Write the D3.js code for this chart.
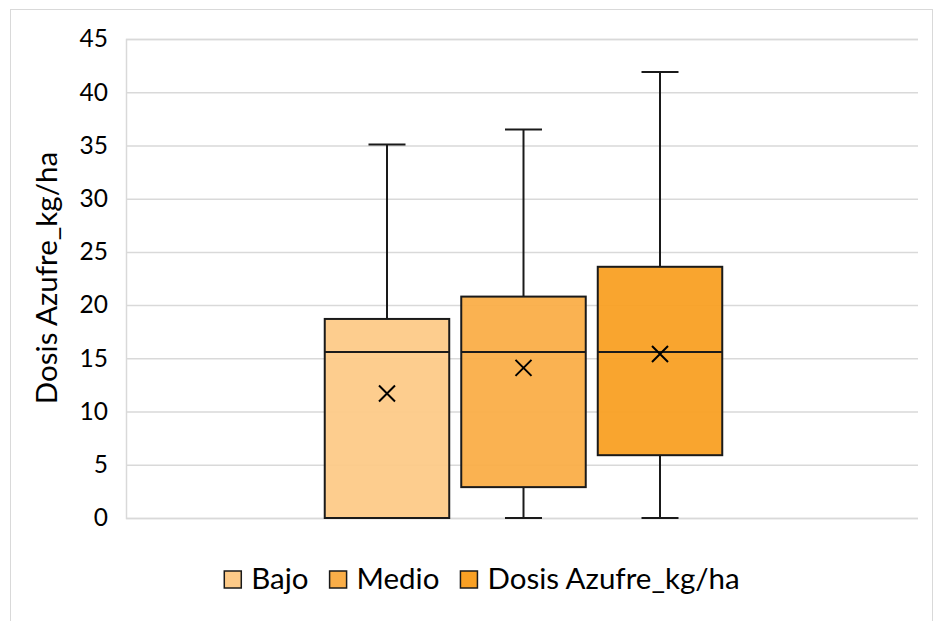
<!DOCTYPE html>
<html>
<head>
<meta charset="utf-8">
<script src="https://cdn.jsdelivr.net/npm/d3@7"></script>
<style>
  body { margin: 0; background: #fff; }
  svg { display: block; font-family: Lato, "Open Sans", sans-serif; }
</style>
</head>
<body>
<svg id="chart" width="934" height="621"></svg>
<script>
// Box-plot summary per series (kg/ha)
const categories = ["Dosis"];
const seriesNames = ["Bajo", "Medio", "Dosis Azufre_kg/ha"];
const mins = [0, 0, 0];
const q1s = [0, 2.9, 5.9];
const medians = [15.6, 15.6, 15.6];
const q3s = [18.7, 20.8, 23.6];
const maxs = [35.1, 36.5, 41.9];
const means = [11.7, 14.1, 15.4];
const seriesColors = ["#FDCA88", "#FAAE48", "#F9A024"];
const yTicks = [0, 5, 10, 15, 20, 25, 30, 35, 40, 45];

const svg = d3.select("#chart");
const plot = { left: 126, right: 918, top: 39, bottom: 518 };

// outer frame
svg.append("rect")
  .attr("x", 10.5).attr("y", 9.5)
  .attr("width", 922).attr("height", 620)
  .attr("fill", "#fff").attr("stroke", "#d9d9d9").attr("stroke-width", 1);

const y = d3.scaleLinear().domain([0, 45]).range([plot.bottom, plot.top]);

const x0 = d3.scaleBand().domain(categories)
  .range([plot.left + 1.5, plot.right + 1.5])
  .paddingInner(0).paddingOuter(0.467);
const x1 = d3.scaleBand().domain(seriesNames)
  .range([0, x0.bandwidth()])
  .paddingInner(0.088).paddingOuter(0.044);

// gridlines and value axis
const yAxis = d3.axisLeft(y).tickValues(yTicks).tickSize(-(plot.right - plot.left)).tickPadding(18);
const gy = svg.append("g").attr("transform", `translate(${plot.left},0)`).call(yAxis);
gy.select(".domain").attr("stroke", "#d9d9d9").attr("stroke-width", 1.5);
gy.selectAll(".tick line").attr("stroke", "#d9d9d9").attr("stroke-width", 1.5);
gy.selectAll(".tick text")
  .attr("font-size", 24.5).attr("fill", "#000")
  .style("font-family", "Lato, 'Open Sans', sans-serif");

// y-axis title
svg.append("text")
  .attr("transform", "translate(57,278) rotate(-90)")
  .attr("text-anchor", "middle")
  .attr("font-size", 29.5)
  .attr("fill", "#000")
  .text("Dosis Azufre_kg/ha");

const stats = seriesNames.map((name, i) => ({
  name, min: mins[i], q1: q1s[i], med: medians[i], q3: q3s[i], max: maxs[i], mean: means[i], color: seriesColors[i]
}));

const g = svg.append("g").attr("transform", `translate(${x0(categories[0])},0)`);
const box = g.selectAll("g.box").data(stats).join("g").attr("class", "box");
const bw = x1.bandwidth();
const cap = 37;
const stroke = "#1a1a1a";
const cx = d => x1(d.name) + bw / 2;

// whiskers and caps
box.append("line")
  .attr("x1", cx).attr("x2", cx)
  .attr("y1", d => y(d.q3)).attr("y2", d => y(d.max))
  .attr("stroke", stroke).attr("stroke-width", 2);
box.append("line")
  .attr("x1", cx).attr("x2", cx)
  .attr("y1", d => y(d.q1)).attr("y2", d => y(d.min))
  .attr("stroke", stroke).attr("stroke-width", 2);
box.append("line")
  .attr("x1", d => cx(d) - cap / 2).attr("x2", d => cx(d) + cap / 2)
  .attr("y1", d => y(d.max)).attr("y2", d => y(d.max))
  .attr("stroke", stroke).attr("stroke-width", 2);
box.append("line")
  .attr("x1", d => cx(d) - cap / 2).attr("x2", d => cx(d) + cap / 2)
  .attr("y1", d => y(d.min)).attr("y2", d => y(d.min))
  .attr("stroke", stroke).attr("stroke-width", 2);

// boxes
box.append("rect")
  .attr("x", d => x1(d.name)).attr("width", bw)
  .attr("y", d => y(d.q3)).attr("height", d => y(d.q1) - y(d.q3))
  .attr("fill", d => d.color).attr("fill-opacity", 0.95)
  .attr("stroke", stroke).attr("stroke-width", 2);

// medians
box.append("line")
  .attr("x1", d => x1(d.name)).attr("x2", d => x1(d.name) + bw)
  .attr("y1", d => y(d.med)).attr("y2", d => y(d.med))
  .attr("stroke", stroke).attr("stroke-width", 2);

// mean markers
const m = 8;
box.append("path")
  .attr("d", d => {
    const px = cx(d), py = y(d.mean);
    return `M${px - m},${py - m}L${px + m},${py + m}M${px - m},${py + m}L${px + m},${py - m}`;
  })
  .attr("stroke", "#000").attr("stroke-width", 2).attr("fill", "none");

// legend, centred under the plot
const legend = svg.append("g");
const sq = 17, textGap = 10, itemGap = 21;
let lx = 0;
seriesNames.forEach((name, i) => {
  const item = legend.append("g").attr("transform", `translate(${lx},0)`);
  item.append("rect").attr("x", 0).attr("y", 571).attr("width", sq).attr("height", sq)
    .attr("fill", seriesColors[i]).attr("stroke", stroke).attr("stroke-width", 1.5);
  const t = item.append("text").attr("x", sq + textGap).attr("y", 589)
    .attr("font-size", 29.5).attr("fill", "#000").text(name);
  lx += sq + textGap + t.node().getComputedTextLength() + itemGap;
});
const legendWidth = lx - itemGap;
legend.attr("transform", `translate(${482 - legendWidth / 2},0)`);
</script>
</body>
</html>
